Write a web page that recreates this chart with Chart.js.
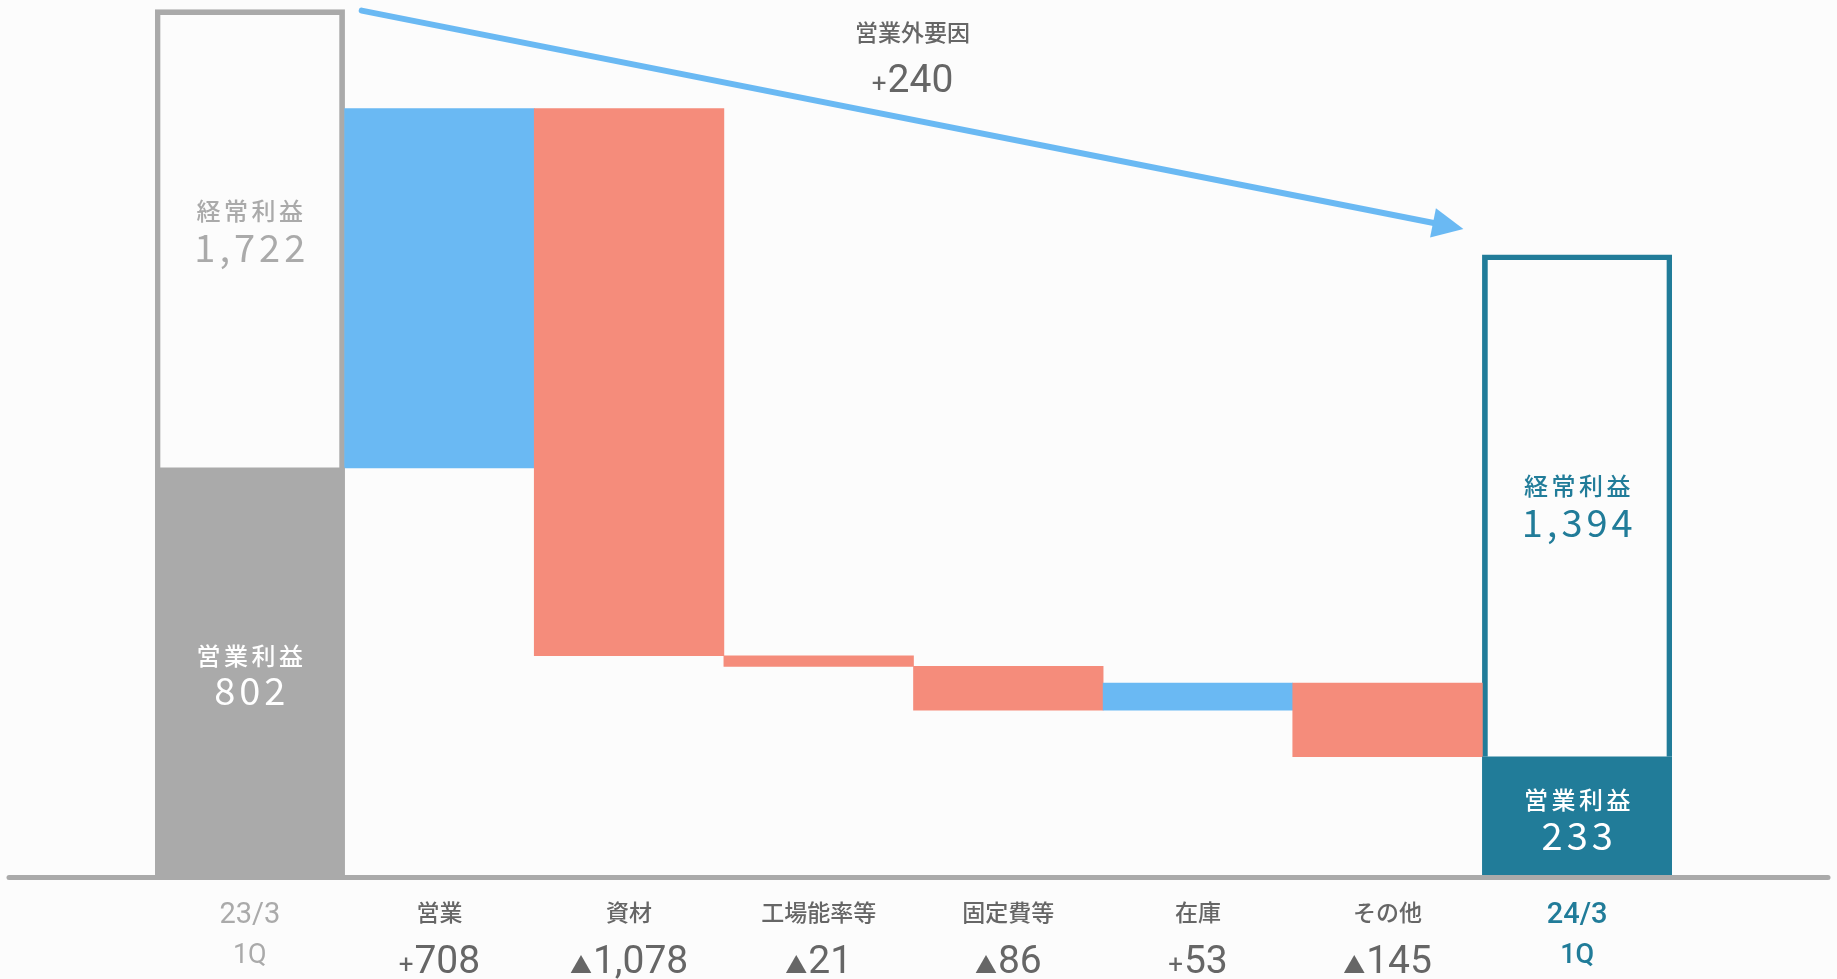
<!DOCTYPE html>
<html><head><meta charset="utf-8">
<script src="https://cdn.jsdelivr.net/npm/chart.js@4.4.0/dist/chart.umd.min.js"></script>
<style>html,body{margin:0;padding:0;background:#fcfcfc;} #wrap{width:1837px;height:979px;position:relative;}</style>
</head><body><div id="wrap"><canvas id="c"></canvas></div>
<script>
// ---- data ----
const categories = ['23/3 1Q','営業','資材','工場能率等','固定費等','在庫','その他','24/3 1Q'];
const startLabel = ['23/3','1Q'];
const endLabel = ['24/3','1Q'];
const factorNames = ['営業','資材','工場能率等','固定費等','在庫','その他'];
const factorDeltas = [708,-1078,-21,-86,53,-145];
const opProfit = [802, 233];          // 営業利益 (start, end)
const ordinaryProfit = [1722, 1394];  // 経常利益 (start, end) labels
const ordinaryBoxTop = [1705, 1222];  // top of outline boxes as drawn in the picture
const nonOpLabel = '営業外要因';
const nonOpValue = 240;

// ---- styles ----
const GRAY = '#aaaaaa', BLUE = '#6ab9f3', RED = '#f58c7b', TEAL = '#217c99', TXT = '#666666';
const JP = "'Noto Sans CJK JP'";
const NUM = "Roboto, 'Noto Sans CJK JP'";

const n = categories.length;
const fillData = new Array(n).fill(null);
fillData[0] = [0, opProfit[0]]; fillData[n-1] = [0, opProfit[1]];
const stepData = new Array(n).fill(null);
const stepColors = new Array(n).fill(BLUE);
let run = opProfit[0];
factorDeltas.forEach((d, i) => { stepData[i+1] = [run, run + d]; stepColors[i+1] = d >= 0 ? BLUE : RED; run += d; });
const boxData = new Array(n).fill(null);
boxData[0] = [opProfit[0], ordinaryBoxTop[0]]; boxData[n-1] = [opProfit[1], ordinaryBoxTop[1]];

const fmt = v => v.toLocaleString('en-US');
const signed = v => [v >= 0 ? '+' : '▲', fmt(Math.abs(v))];

function txt(ctx, s, x, y, font, color, ls, base) {
  ctx.save(); ctx.font = font; ctx.fillStyle = color; ctx.textAlign = 'center';
  ctx.textBaseline = base || 'middle';
  if (ls) { ctx.letterSpacing = ls + 'px'; x += ls / 2; }
  ctx.fillText(s, x, y); ctx.restore();
}
function signedTxt(ctx, parts, cx, y, numFont, color) {
  const signFont = parts[0] === '+' ? `400 26px ${NUM}` : `400 22px ${JP}`;
  ctx.save(); ctx.fillStyle = color; ctx.textBaseline = 'alphabetic'; ctx.textAlign = 'left';
  ctx.font = signFont; const w1 = ctx.measureText(parts[0]).width;
  ctx.font = numFont; const w2 = ctx.measureText(parts[1]).width;
  let x = cx - (w1 + w2 + 1) / 2;
  ctx.font = signFont; ctx.fillText(parts[0], x, y);
  ctx.font = numFont; ctx.fillText(parts[1], x + w1 + 1, y);
  ctx.restore();
}

const overlay = {
  id: 'overlay',
  afterDatasetsDraw(chart) {
    const ctx = chart.ctx, xs = chart.scales.x, ys = chart.scales.y;
    const y0 = ys.getPixelForValue(0);
    const catW = xs.getPixelForValue(1) - xs.getPixelForValue(0);
    // baseline
    ctx.save(); ctx.strokeStyle = GRAY; ctx.lineWidth = 5; ctx.lineCap = 'round';
    ctx.beginPath(); ctx.moveTo(9, y0 + 2.5); ctx.lineTo(chart.width - 9, y0 + 2.5); ctx.stroke(); ctx.restore();

    // arrow for non-operating factor
    const ax0 = xs.getPixelForValue(0) + catW * 0.59, ay0 = ys.getPixelForValue(1703);
    const ax1 = xs.getPixelForValue(n - 1) - catW * 0.6, ay1 = ys.getPixelForValue(1273);
    const ang = Math.atan2(ay1 - ay0, ax1 - ax0), L = 31, H = 15;
    const bx = ax1 - L * Math.cos(ang), by = ay1 - L * Math.sin(ang);
    ctx.save(); ctx.strokeStyle = BLUE; ctx.fillStyle = BLUE; ctx.lineWidth = 6; ctx.lineCap = 'round';
    ctx.beginPath(); ctx.moveTo(ax0, ay0); ctx.lineTo(bx + 2 * Math.cos(ang), by + 2 * Math.sin(ang)); ctx.stroke();
    ctx.beginPath(); ctx.moveTo(ax1, ay1);
    ctx.lineTo(bx + H * Math.sin(ang), by - H * Math.cos(ang));
    ctx.lineTo(bx - H * Math.sin(ang), by + H * Math.cos(ang));
    ctx.closePath(); ctx.fill(); ctx.restore();
    const mx = (ax0 + ax1) / 2, top = ys.getPixelForValue(ys.max);
    txt(ctx, nonOpLabel, mx, top + 32, `500 23px ${JP}`, TXT);
    signedTxt(ctx, signed(nonOpValue), mx, top + 92, `400 39px ${NUM}`, TXT);

    // labels inside start / end bars
    const ends = [0, n - 1], cols = [GRAY, TEAL], titleOff = [257, 271];
    ends.forEach((idx, k) => {
      const cx = xs.getPixelForValue(idx);
      const fTop = ys.getPixelForValue(opProfit[k]);
      const fMid = (fTop + y0) / 2;
      txt(ctx, '営業利益', cx, fMid - 16, `500 24px ${JP}`, '#ffffff', 3.5);
      txt(ctx, fmt(opProfit[k]), cx, fMid + 34, `400 38px ${JP}`, '#ffffff', 4, 'alphabetic');
      const tY = fTop - titleOff[k];
      txt(ctx, '経常利益', cx, tY, `500 24px ${JP}`, cols[k], 3.5);
      txt(ctx, fmt(ordinaryProfit[k]), cx, tY + 51, `400 38px ${JP}`, cols[k], 4, 'alphabetic');
    });

    // category labels under the axis
    txt(ctx, startLabel[0], xs.getPixelForValue(0), y0 + 41, `400 29px ${NUM}`, GRAY);
    txt(ctx, startLabel[1], xs.getPixelForValue(0), y0 + 81, `400 27px ${NUM}`, GRAY);
    txt(ctx, endLabel[0], xs.getPixelForValue(n - 1), y0 + 41, `500 29px ${NUM}`, TEAL);
    txt(ctx, endLabel[1], xs.getPixelForValue(n - 1), y0 + 81, `500 27px ${NUM}`, TEAL);
    factorNames.forEach((name, i) => {
      const cx = xs.getPixelForValue(i + 1);
      txt(ctx, name, cx, y0 + 37, `500 23px ${JP}`, TXT);
      signedTxt(ctx, signed(factorDeltas[i]), cx, y0 + 98, `400 39px ${NUM}`, TXT);
    });
  }
};

new Chart(document.getElementById('c'), {
  type: 'bar',
  data: {
    labels: categories,
    datasets: [
      { data: fillData, backgroundColor: [GRAY, null, null, null, null, null, null, TEAL], borderWidth: 0,
        grouped: false, barPercentage: 1, categoryPercentage: 1, order: 0 },
      { data: stepData, backgroundColor: stepColors, borderWidth: 0,
        grouped: false, barPercentage: 1, categoryPercentage: 1, order: 1 },
      { data: boxData, backgroundColor: 'rgba(0,0,0,0)', borderColor: [GRAY, null, null, null, null, null, null, TEAL],
        borderWidth: 5, borderSkipped: 'start',
        grouped: false, barPercentage: 1, categoryPercentage: 1, order: 2 }
    ]
  },
  options: {
    responsive: true, maintainAspectRatio: false, animation: false, devicePixelRatio: 1,
    layout: { padding: { left: 155, right: 165, top: 0, bottom: 104 } },
    plugins: { legend: { display: false }, tooltip: { enabled: false } },
    scales: {
      x: { display: false, offset: true },
      y: { display: false, min: 0, max: 1724 }
    }
  },
  plugins: [overlay]
});
</script></body></html>
